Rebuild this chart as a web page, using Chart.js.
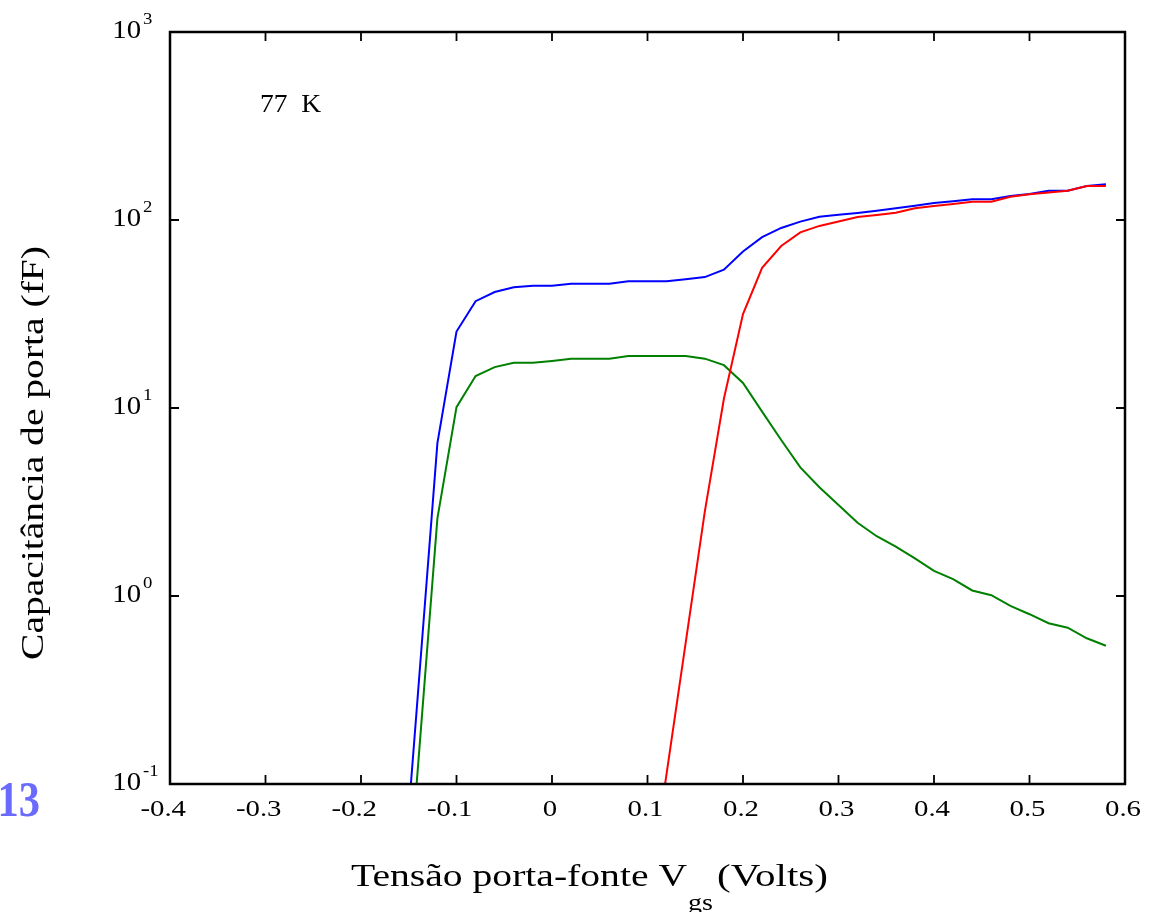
<!DOCTYPE html>
<html><head><meta charset="utf-8">
<script src="https://cdn.jsdelivr.net/npm/chart.js@4.4.1/dist/chart.umd.min.js"></script>
<style>html,body{margin:0;padding:0;background:#fff;overflow:hidden}canvas{display:block}</style>
</head><body>
<canvas id="c" width="1153" height="912"></canvas>
<script>
// ---- data ----
const vgs = [-0.16,-0.14,-0.12,-0.10,-0.08,-0.06,-0.04,-0.02,0.00,0.02,0.04,0.06,0.08,0.10,0.12,0.14,0.16,0.18,0.20,0.22,0.24,0.26,0.28,0.30,0.32,0.34,0.36,0.38,0.40,0.42,0.44,0.46,0.48,0.50,0.52,0.54,0.56,0.58];
const capBlue = [0.016,0.32,6.5,25.5,37,41.4,43.9,44.7,44.7,45.8,45.8,45.8,47.2,47.2,47.2,48.4,49.7,54.4,68,81,90.7,98,104,106.5,109,112,115.5,119,123,126,129,129,134,137.5,143,143,151.5,155];
const capGreen = [0.0067,0.13,2.59,10.1,14.8,16.5,17.4,17.4,17.8,18.3,18.3,18.3,18.9,18.9,18.9,18.9,18.3,16.9,13.6,9.56,6.76,4.83,3.79,3.05,2.45,2.08,1.83,1.585,1.36,1.23,1.07,1.01,0.885,0.80,0.716,0.678,0.596,0.544];
const capRed = [null,null,null,null,null,null,null,null,null,null,null,null,null,0.023,0.1135,0.565,2.81,11.2,31.6,55.7,72.7,86,93,98.2,103.7,106.3,109.4,115.4,118.7,121.7,125,125,133,137,140,143,151.7,151.7];
const xTickValues = [-0.4,-0.3,-0.2,-0.1,0,0.1,0.2,0.3,0.4,0.5,0.6];
const xTickLabels = ['-0.4','-0.3','-0.2','-0.1','0','0.1','0.2','0.3','0.4','0.5','0.6'];
const yTickValues = [0.1,1,10,100,1000];
const yTickExponents = ['-1','0','1','2','3'];
const xTitle = ['Tensão porta-fonte V','gs','(Volts)'];
const yTitle = 'Capacitância de porta (fF)';
const annotation = '77  K';
const pageNumber = '13';

const toPoints = arr => vgs.map((x,i)=>({x:x, y:arr[i]})).filter(p=>p.y!==null);

const SERIF = '"Liberation Serif","Times New Roman",serif';
function drawText(ctx, s, x, y, size, sx, align, opt) {
  opt = opt || {};
  ctx.save();
  ctx.font = (opt.weight ? opt.weight + ' ' : '') + size + 'px ' + SERIF;
  ctx.fillStyle = opt.color || '#000';
  ctx.textBaseline = 'alphabetic';
  ctx.textAlign = 'left';
  const w = ctx.measureText(s).width * sx;
  let x0 = align === 'right' ? x - w : (align === 'center' ? x - w / 2 : x);
  ctx.translate(x0, y);
  ctx.scale(sx, 1);
  ctx.fillText(s, 0, 0);
  ctx.restore();
  return w;
}
function measure(ctx, s, size, weight) {
  ctx.save();
  ctx.font = (weight ? weight + ' ' : '') + size + 'px ' + SERIF;
  const w = ctx.measureText(s).width;
  ctx.restore();
  return w;
}

const framePlugin = {
  id: 'frame',
  afterDraw(chart) {
    const ctx = chart.ctx;
    const a = chart.chartArea;
    const xs = chart.scales.x, ys = chart.scales.y;
    ctx.save();
    // ticks
    ctx.strokeStyle = '#000';
    ctx.lineWidth = 1.8;
    const tl = 9;
    ctx.beginPath();
    xTickValues.forEach(v => {
      const px = xs.getPixelForValue(v);
      ctx.moveTo(px, a.bottom); ctx.lineTo(px, a.bottom - tl);
      ctx.moveTo(px, a.top); ctx.lineTo(px, a.top + tl);
    });
    yTickValues.forEach(v => {
      const py = ys.getPixelForValue(v);
      ctx.moveTo(a.left, py); ctx.lineTo(a.left + tl, py);
      ctx.moveTo(a.right, py); ctx.lineTo(a.right - tl, py);
    });
    ctx.stroke();
    // frame
    ctx.lineWidth = 2.5;
    ctx.strokeRect(a.left, a.top, a.right - a.left, a.bottom - a.top);
    ctx.restore();

    // x tick labels
    const tsx = 1.2;
    xTickValues.forEach((v, i) => {
      const px = xs.getPixelForValue(v);
      const s = xTickLabels[i];
      const num = s.replace('-', '');
      const wn = measure(ctx, num, 24) * tsx;
      drawText(ctx, s, px - 2 + wn / 2, a.bottom + 32, 24, tsx, 'right');
    });
    // y tick labels (10 with superscript exponent)
    yTickValues.forEach((v, i) => {
      const py = ys.getPixelForValue(v);
      drawText(ctx, '10', 141, py + 6, 25, 1.15, 'right');
      drawText(ctx, yTickExponents[i], 143, py - 8, 17, 1.1, 'left');
    });

    // x title
    const w1 = measure(ctx, xTitle[0], 31);
    drawText(ctx, xTitle[0], 351, 886, 31, 336 / w1, 'left');
    const w2 = measure(ctx, xTitle[1], 23);
    drawText(ctx, xTitle[1], 688, 910, 23, 25 / w2, 'left');
    const w3 = measure(ctx, xTitle[2], 31);
    drawText(ctx, xTitle[2], 717, 886, 31, 111 / w3, 'left');

    // y title (rotated)
    ctx.save();
    ctx.translate(43, 660);
    ctx.rotate(-Math.PI / 2);
    const wy = measure(ctx, yTitle, 32);
    drawText(ctx, yTitle, 0, 0, 32, 414 / wy, 'left');
    ctx.restore();

    // annotation
    drawText(ctx, annotation, 260, 112, 25, 1.1, 'left');
    // page number
    drawText(ctx, pageNumber, 40, 816, 50, 0.85, 'right', {weight: 'bold', color: '#6a6aff'});
  }
};

new Chart(document.getElementById('c'), {
  type: 'line',
  data: {
    datasets: [
      {label: 'red', data: toPoints(capRed), borderColor: '#ff0000'},
      {label: 'green', data: toPoints(capGreen), borderColor: '#008000'},
      {label: 'blue', data: toPoints(capBlue), borderColor: '#0000ff'}
    ]
  },
  options: {
    responsive: false,
    animation: false,
    devicePixelRatio: 1,
    layout: {padding: {left: 170, top: 32, right: 28, bottom: 128}},
    elements: {
      point: {radius: 0, hoverRadius: 0},
      line: {tension: 0, borderWidth: 2, fill: false}
    },
    datasets: {line: {clip: 0}},
    scales: {
      x: {type: 'linear', min: -0.4, max: 0.6, display: false},
      y: {type: 'logarithmic', min: 0.1, max: 1000, display: false}
    },
    plugins: {legend: {display: false}, tooltip: {enabled: false}}
  },
  plugins: [framePlugin]
});
</script>
</body></html>
